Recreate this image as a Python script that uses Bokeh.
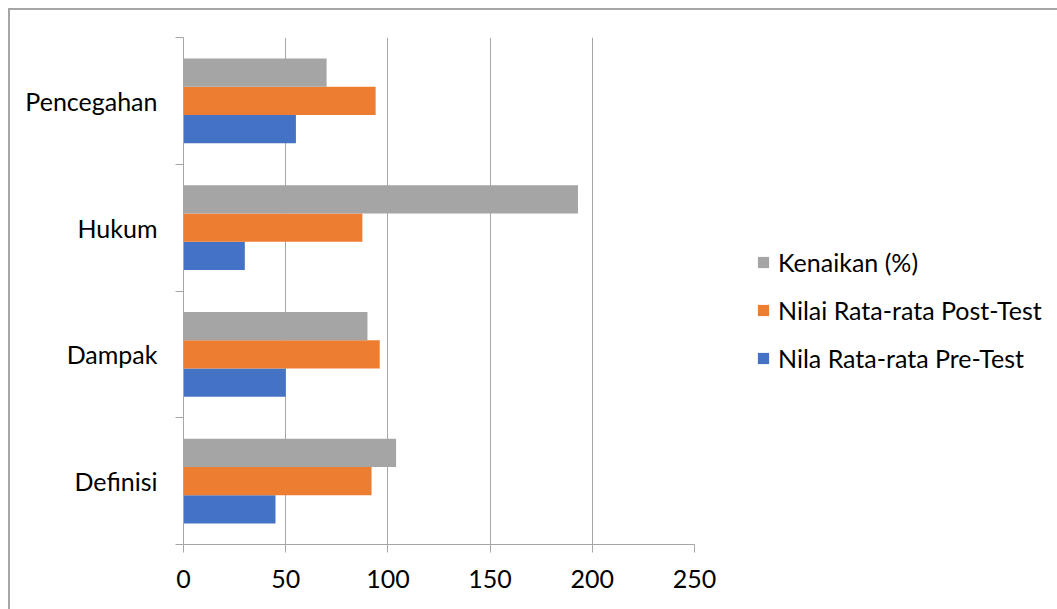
from bokeh.plotting import figure
from bokeh.models import Range1d, FixedTicker, Legend, LegendItem, ColumnDataSource
from bokeh.embed import file_html
from bokeh.resources import INLINE
import numpy as np

# ---- data ----
categories = ["Definisi", "Dampak", "Hukum", "Pencegahan"]
pre_test = [45, 50, 30, 55]
post_test = [92, 96, 87.5, 94]
kenaikan = [104, 90, 193, 70]
x_ticks = [0, 50, 100, 150, 200, 250]
series_names = ["Nila Rata-rata Pre-Test", "Nilai Rata-rata Post-Test", "Kenaikan (%)"]
series_colors = ["#4472C4", "#ED7D31", "#A5A5A5"]

FONT = "Lato"
FSIZE = "25px"
GRAY = "#a6a6a6"

pos = np.arange(len(categories)) + 0.5
bar_h = 0.2225
offsets = [-bar_h, 0.0, bar_h]

p = figure(frame_width=511, frame_height=507, output_backend="svg", toolbar_location=None,
           x_range=Range1d(0, 250), y_range=Range1d(0, len(categories)),
           min_border_left=173, min_border_top=27, min_border_right=0, min_border_bottom=65,
           styles={"margin-left": "8px", "margin-top": "8px",
                   "border-top": "2px solid #a6a6a6", "border-left": "2px solid #a6a6a6"})
p.outline_line_color = None
p.background_fill_color = "white"
p.border_fill_color = "white"

renderers = []
for vals, off, col in zip([pre_test, post_test, kenaikan], offsets, series_colors):
    src = ColumnDataSource(dict(y=pos + off, right=vals))
    r = p.hbar(y="y", right="right", left=0, height=bar_h, source=src,
               fill_color=col, line_color=None)
    renderers.append(r)

# x axis
p.xaxis.ticker = FixedTicker(ticks=x_ticks)
p.xaxis.axis_line_color = GRAY
p.xaxis.major_tick_line_color = GRAY
p.xaxis.major_tick_out = 8
p.xaxis.major_tick_in = 0
p.xaxis.minor_tick_line_color = None
p.xaxis.major_label_text_font = FONT
p.xaxis.major_label_text_font_size = FSIZE
p.xaxis.major_label_text_color = "#000000"
p.xaxis.major_label_standoff = 17

# y axis
p.yaxis.ticker = FixedTicker(ticks=list(pos), minor_ticks=list(range(len(categories) + 1)))
p.yaxis.major_label_overrides = {float(v): c for v, c in zip(pos, categories)}
p.yaxis.axis_line_color = GRAY
p.yaxis.major_tick_line_color = None
p.yaxis.major_tick_out = 0
p.yaxis.major_tick_in = 0
p.yaxis.minor_tick_line_color = GRAY
p.yaxis.minor_tick_out = 8
p.yaxis.minor_tick_in = 0
p.yaxis.major_label_text_font = FONT
p.yaxis.major_label_text_font_size = FSIZE
p.yaxis.major_label_text_color = "#000000"
p.yaxis.major_label_standoff = 18

# grid
p.xgrid.ticker = FixedTicker(ticks=x_ticks)
p.xgrid.grid_line_color = GRAY
p.xgrid.grid_line_width = 1
p.ygrid.grid_line_color = None

items = [LegendItem(label=series_names[i], renderers=[renderers[i]]) for i in [2, 1, 0]]
legend = Legend(items=items, location=(62, 171), orientation="vertical")
legend.label_text_font = FONT
legend.label_text_font_size = FSIZE
legend.label_text_color = "#000000"
legend.glyph_width = 14
legend.glyph_height = 14
legend.label_height = 24
legend.spacing = 18
legend.label_standoff = 8
legend.padding = 0
legend.margin = 0
legend.border_line_color = None
legend.background_fill_color = None
p.add_layout(legend, "right")

open("out.html", "w").write(file_html(p, INLINE))
